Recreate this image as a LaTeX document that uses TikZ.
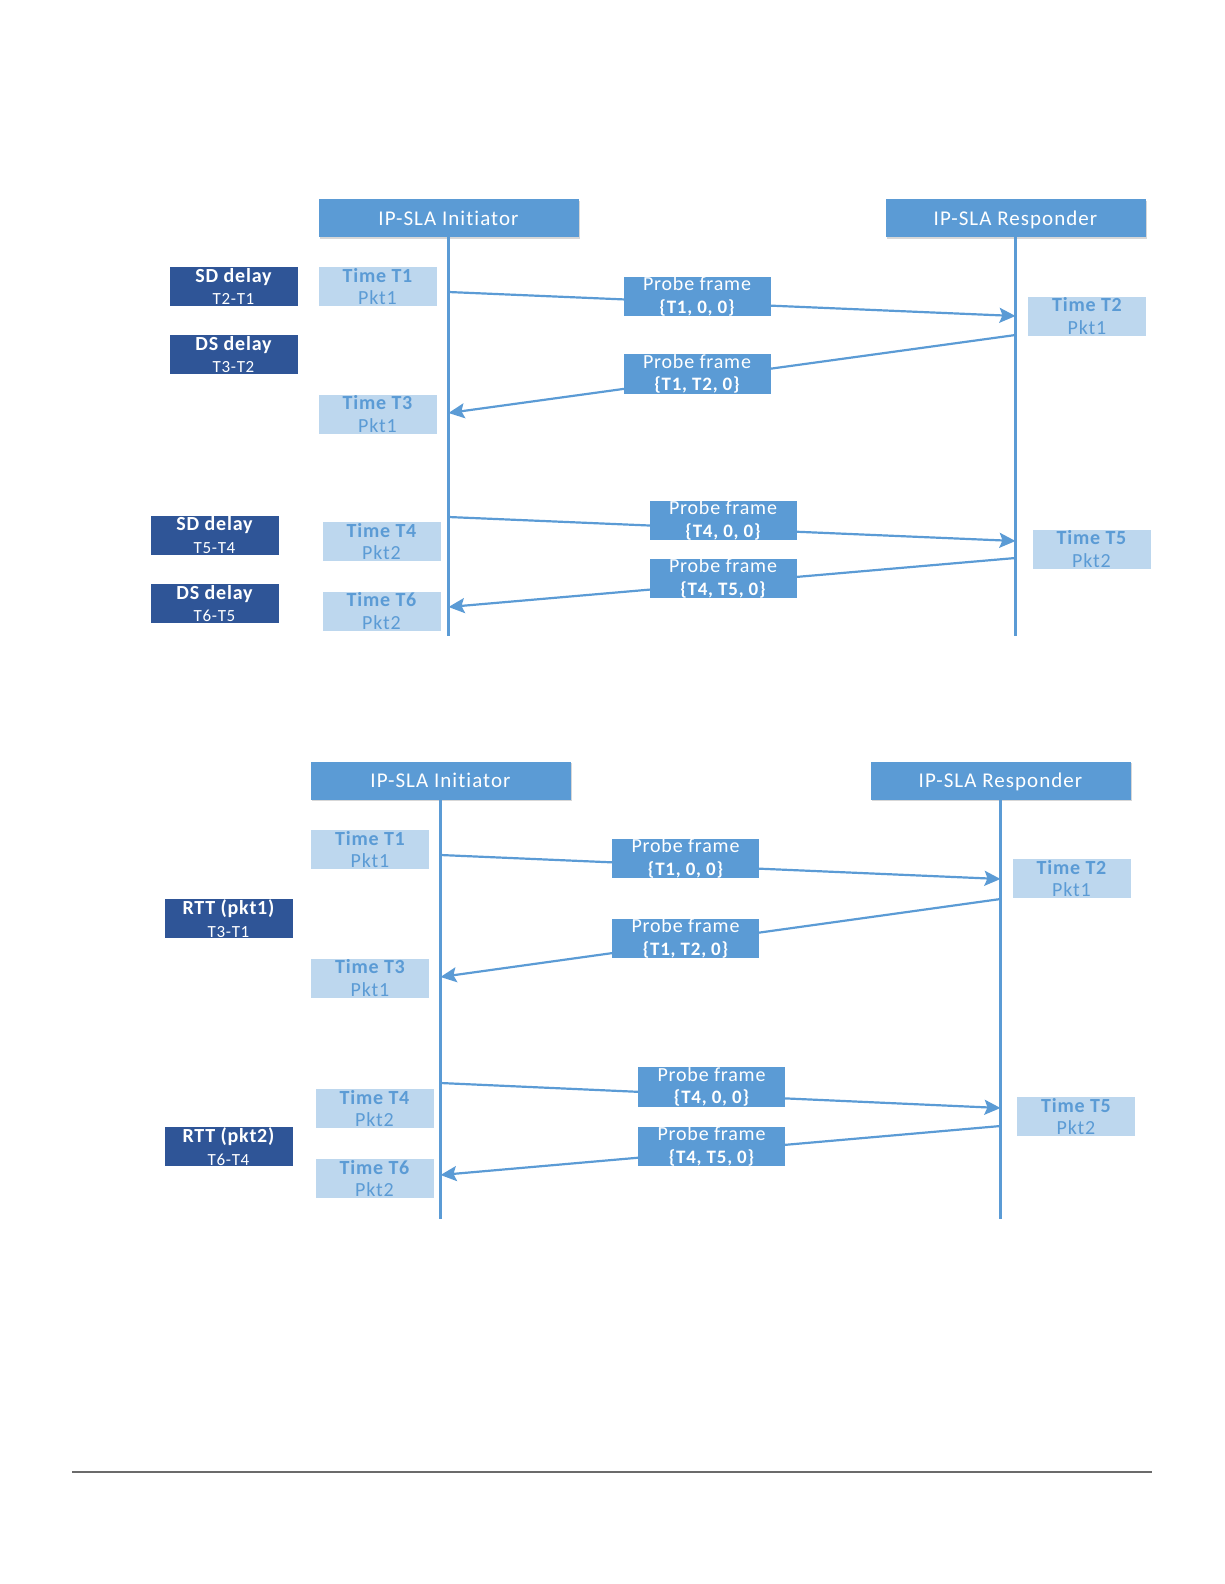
\documentclass[tikz,border=0pt]{standalone}
\usepackage{fontspec}
\setmainfont[LetterSpace=4,Ligatures={NoCommon}]{Carlito}
\newfontfamily\hdrfont[LetterSpace=5,Ligatures={NoCommon}]{Carlito}
\usetikzlibrary{arrows.meta,shadows}

\definecolor{slablue}{HTML}{5B9BD5}
\definecolor{slalight}{HTML}{BDD7EE}
\definecolor{sladark}{HTML}{2F5597}
\definecolor{rulegray}{HTML}{6B6B6B}

\begin{document}
\begin{tikzpicture}[x=1pt, y=-1pt, >={Stealth[length=16pt,width=15pt,inset=3pt]},
  hdr/.style={fill=slablue, text=white, minimum width=260pt, minimum height=38pt,
              inner sep=0pt, text depth=0pt, font=\hdrfont\fontsize{21}{24}\selectfont,
              drop shadow={shadow xshift=1.5pt, shadow yshift=-1.5pt, fill=black!35, opacity=0.45}},
  stamp/.style={fill=slalight, text=slablue, minimum width=118pt, minimum height=39pt,
                inner sep=0pt, align=center, font=\fontsize{20}{22.6}\selectfont},
  probe/.style={fill=slablue, text=white, minimum width=147pt, minimum height=39pt,
                inner sep=0pt, align=center, font=\fontsize{20}{22.6}\selectfont},
  delay/.style={fill=sladark, text=white, minimum width=128pt, minimum height=39pt,
                inner sep=0pt, align=center, font=\fontsize{20}{22.6}\selectfont},
  life/.style={draw=slablue, line width=2.2pt},
  msg/.style={->, draw=slablue, line width=2.2pt}]
  \useasboundingbox (0,0) rectangle (1224,1584);

  % one-way delays
  \node (iniA) [hdr] at (448.5,218) {IP-SLA Initiator};
  \node (respA) [hdr] at (1015.5,218) {IP-SLA Responder};
  \coordinate (iniEndA) at (448.5,636);
  \coordinate (respEndA) at (1015.5,636);
  \draw[life] (iniA) -- (iniEndA);
  \draw[life] (respA) -- (respEndA);

  \coordinate (sendA1) at (448.5,292);  \coordinate (recvA1) at (1015.5,316);
  \coordinate (sendA2) at (1015.5,335); \coordinate (recvA2) at (448.5,413);
  \coordinate (sendA3) at (448.5,517);  \coordinate (recvA3) at (1015.5,541);
  \coordinate (sendA4) at (1015.5,558); \coordinate (recvA4) at (448.5,607);
  \draw[msg] (sendA1) -- (recvA1);
  \draw[msg] (sendA2) -- (recvA2);
  \draw[msg] (sendA3) -- (recvA3);
  \draw[msg] (sendA4) -- (recvA4);

  \node (probeA1) [probe] at (697,296.5) {Probe frame\\{\bfseries\fontsize{19}{22.6}\selectfont\{T1, 0, 0\}}};
  \node (probeA2) [probe] at (697,374) {Probe frame\\{\bfseries\fontsize{19}{22.6}\selectfont\{T1, T2, 0\}}};
  \node (probeA3) [probe] at (723,520.5) {Probe frame\\{\bfseries\fontsize{19}{22.6}\selectfont\{T4, 0, 0\}}};
  \node (probeA4) [probe] at (723,578.5) {Probe frame\\{\bfseries\fontsize{19}{22.6}\selectfont\{T4, T5, 0\}}};

  \node (tA1) [stamp] at (377.5,286.5) {{\bfseries Time T1}\\Pkt1};
  \node (tA3) [stamp] at (377.5,414) {{\bfseries Time T3}\\Pkt1};
  \node (tA2) [stamp] at (1087,316) {{\bfseries Time T2}\\Pkt1};
  \node (tA4) [stamp] at (381.5,541.5) {{\bfseries Time T4}\\Pkt2};
  \node (tA6) [stamp] at (381.5,611) {{\bfseries Time T6}\\Pkt2};
  \node (tA5) [stamp] at (1091.5,549) {{\bfseries Time T5}\\Pkt2};

  \node (sdA1) [delay] at (233.5,286.5) {{\bfseries SD delay}\\{\fontsize{17}{22.6}\selectfont T2-T1}};
  \node (dsA1) [delay] at (233.5,354.5) {{\bfseries DS delay}\\{\fontsize{17}{22.6}\selectfont T3-T2}};
  \node (sdA2) [delay] at (214.5,535) {{\bfseries SD delay}\\{\fontsize{17}{22.6}\selectfont T5-T4}};
  \node (dsA2) [delay] at (214.5,603.5) {{\bfseries DS delay}\\{\fontsize{17}{22.6}\selectfont T6-T5}};

  % round trip
  \node (iniB) [hdr] at (440.5,780.5) {IP-SLA Initiator};
  \node (respB) [hdr] at (1000.5,780.5) {IP-SLA Responder};
  \coordinate (iniEndB) at (440.5,1219);
  \coordinate (respEndB) at (1000.5,1219);
  \draw[life] (iniB) -- (iniEndB);
  \draw[life] (respB) -- (respEndB);

  \coordinate (sendB1) at (440.5,855);   \coordinate (recvB1) at (1000.5,879);
  \coordinate (sendB2) at (1000.5,899);  \coordinate (recvB2) at (440.5,977);
  \coordinate (sendB3) at (440.5,1083);  \coordinate (recvB3) at (1000.5,1108);
  \coordinate (sendB4) at (1000.5,1126); \coordinate (recvB4) at (440.5,1175);
  \draw[msg] (sendB1) -- (recvB1);
  \draw[msg] (sendB2) -- (recvB2);
  \draw[msg] (sendB3) -- (recvB3);
  \draw[msg] (sendB4) -- (recvB4);

  \node (probeB1) [probe] at (685.5,858.5) {Probe frame\\{\bfseries\fontsize{19}{22.6}\selectfont\{T1, 0, 0\}}};
  \node (probeB2) [probe] at (685.5,938.5) {Probe frame\\{\bfseries\fontsize{19}{22.6}\selectfont\{T1, T2, 0\}}};
  \node (probeB3) [probe] at (711.5,1087) {Probe frame\\{\bfseries\fontsize{19}{22.6}\selectfont\{T4, 0, 0\}}};
  \node (probeB4) [probe] at (711.5,1146.5) {Probe frame\\{\bfseries\fontsize{19}{22.6}\selectfont\{T4, T5, 0\}}};

  \node (tB1) [stamp] at (370,849.5) {{\bfseries Time T1}\\Pkt1};
  \node (tB3) [stamp] at (370,978) {{\bfseries Time T3}\\Pkt1};
  \node (tB2) [stamp] at (1071.5,878.5) {{\bfseries Time T2}\\Pkt1};
  \node (tB4) [stamp] at (374.5,1108.5) {{\bfseries Time T4}\\Pkt2};
  \node (tB6) [stamp] at (374.5,1178.5) {{\bfseries Time T6}\\Pkt2};
  \node (tB5) [stamp] at (1076,1116.5) {{\bfseries Time T5}\\Pkt2};

  \node (rtt1) [delay] at (228.5,918.5) {{\bfseries RTT (pkt1)}\\{\fontsize{17}{22.6}\selectfont T3-T1}};
  \node (rtt2) [delay] at (228.5,1146.5) {{\bfseries RTT (pkt2)}\\{\fontsize{17}{22.6}\selectfont T6-T4}};

  \coordinate (ruleL) at (72,1472);
  \coordinate (ruleR) at (1152,1472);
  \draw[rulegray, line width=2pt] (ruleL) -- (ruleR);
\end{tikzpicture}
\end{document}
